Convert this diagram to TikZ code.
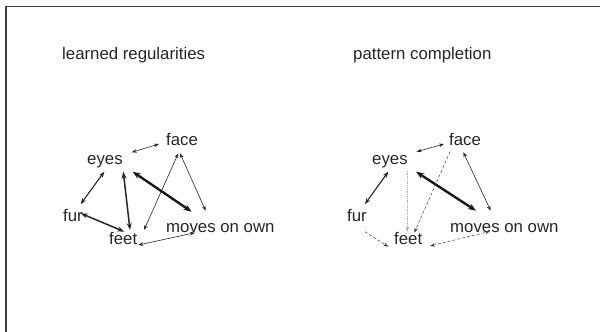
\documentclass[tikz,border=0pt]{standalone}
\usepackage{fontspec}
\setmainfont{Liberation Sans}
\usetikzlibrary{arrows.meta}
\tikzset{
  lbl/.style={anchor=base west, inner sep=0pt, font=\fontsize{16.8}{20}\selectfont, text=black!85},
  lnk/.style={line width=0.6pt, black!85, {Stealth[length=5pt,width=3.6pt]}-{Stealth[length=5pt,width=3.6pt]}},
  mid/.style={line width=1.1pt, black!85, {Stealth[length=6pt,width=4.5pt]}-{Stealth[length=6pt,width=4.5pt]}},
  bold/.style={line width=1.5pt, black!85, {Stealth[length=7pt,width=5pt]}-{Stealth[length=7pt,width=5pt]}},
  heavy/.style={line width=2.4pt, black!90, {Stealth[length=8pt,width=6pt]}-{Stealth[length=8pt,width=6pt]}},
  weak/.style={line width=0.5pt, black!75, densely dashed},
  weaktip/.style={-{Stealth[length=5pt,width=3.6pt]}},
  weakboth/.style={{Stealth[length=5pt,width=3.6pt]}-{Stealth[length=5pt,width=3.6pt]}},
  faint/.style={line width=0.8pt, black!35, densely dotted, -{Stealth[length=5pt,width=3.6pt]}},
  frame/.style={line width=1.5pt, black!75}
}
\begin{document}
\begin{tikzpicture}[x=1pt,y=-1pt]
\useasboundingbox (0,0) rectangle (600,332);
\draw[frame] (6,332) coordinate (bl) -- (6,6.5) coordinate (tl) -- (600,6.5) coordinate (tr);

% titles
\node[lbl] (t1) at (62,59) {learned regularities};
\node[lbl] (t2) at (353,59) {pattern completion};

% left panel
\node[lbl] (eyesL) at (87,164) {eyes};
\node[lbl] (faceL) at (166,145) {face};
\node[lbl] (furL) at (63,221) {fur};
\node[lbl] (feetL) at (109,244) {feet};
\node[lbl] (movesL) at (166,232) {moves on own};

\draw[lnk] ([shift={(44.7,-11.7)}]eyesL.base west) -- ([shift={(-7,-1)}]faceL.base west);
\draw[lnk] ([shift={(12.3,8.3)}]faceL.base west) -- ([shift={(35,-14)}]feetL.base west);
\draw[lnk] ([shift={(14,8.3)}]faceL.base west) -- ([shift={(39.7,-21.3)}]movesL.base west);
\draw[heavy] ([shift={(45.7,7.7)}]eyesL.base west) -- ([shift={(25.7,-20.3)}]movesL.base west);
\draw[bold] ([shift={(36.3,7.7)}]eyesL.base west) -- ([shift={(21,-14)}]feetL.base west);
\draw[mid] ([shift={(17.3,7.7)}]eyesL.base west) -- ([shift={(17.7,-17)}]furL.base west);
\draw[bold] ([shift={(17.7,-7.7)}]furL.base west) -- ([shift={(15.3,-12.3)}]feetL.base west);
\draw[lnk] ([shift={(29.3,1)}]feetL.base west) -- ([shift={(29,0.7)}]movesL.base west);

% right panel
\node[lbl] (eyesR) at (372,164) {eyes};
\node[lbl] (faceR) at (449,145) {face};
\node[lbl] (furR) at (347,221) {fur};
\node[lbl] (feetR) at (394,244) {feet};
\node[lbl] (movesR) at (450,232) {moves on own};

\draw[lnk] ([shift={(44.7,-12.3)}]eyesR.base west) -- ([shift={(-5,-1)}]faceR.base west);
\draw[faint] ([shift={(35.3,6.7)}]eyesR.base west) -- ([shift={(13.3,-12.3)}]feetR.base west);
\draw[weak,weaktip] ([shift={(1,6.7)}]faceR.base west) -- ([shift={(20.3,-11.3)}]feetR.base west);
\draw[lnk] ([shift={(14.3,7.3)}]faceR.base west) -- ([shift={(40.7,-21.3)}]movesR.base west);
\draw[heavy] ([shift={(44,7.7)}]eyesR.base west) -- ([shift={(26,-21.3)}]movesR.base west);
\draw[mid] ([shift={(16.3,7.7)}]eyesR.base west) -- ([shift={(18,-17)}]furR.base west);
\draw[weak,weaktip] ([shift={(18,10.7)}]furR.base west) -- ([shift={(-5.7,2.7)}]feetR.base west);
\draw[weak,weakboth] ([shift={(36,2)}]feetR.base west) -- ([shift={(40,-0.7)}]movesR.base west);
\end{tikzpicture}
\end{document}
